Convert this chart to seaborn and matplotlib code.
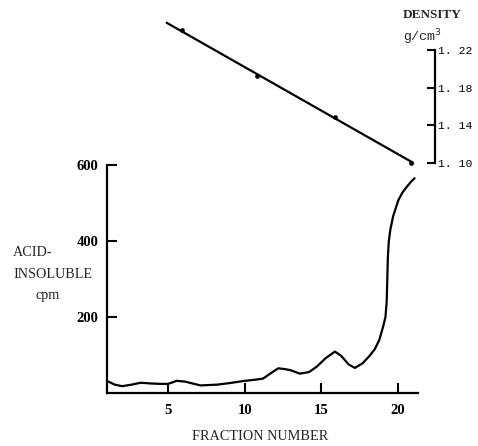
import numpy as np
import pandas as pd
import matplotlib
matplotlib.use('Agg')
import matplotlib.pyplot as plt
import seaborn as sns

# Radioactividad insoluble en acido por fraccion
fraction = [1.1, 1.5, 2.0, 2.6, 3.2, 3.9, 4.5, 5.0, 5.55, 6.1, 6.6, 7.1, 7.7,
            8.2, 9.0, 10.0, 10.7, 11.2, 11.7, 12.2, 12.6, 13.0, 13.6, 14.2,
            14.7, 15.3, 15.9, 16.3, 16.8, 17.2, 17.7, 18.1, 18.5, 18.8,
            19.05, 19.2, 19.28, 19.32, 19.36, 19.42, 19.52, 19.7, 20.04,
            20.3, 20.6, 20.85, 21.1]
cpm = [30, 22, 18, 22, 27, 25, 24, 24, 32, 30, 25, 20, 21,
       22, 26, 32, 35, 38, 52, 65, 63, 60, 51, 55,
       69, 92, 109, 98, 75, 66, 78, 95, 115, 140,
       175, 200, 240, 300, 360, 400, 430, 465, 507,
       527, 543, 555, 565]

# Densidad del gradiente
dens_fraction = [5.88, 10.78, 15.9, 20.9]
density = [1.241, 1.192, 1.149, 1.100]
fit_fraction = [4.9, 21.0]
fit_density = [1.249, 1.100]

cpm_ticks = [200, 400, 600]
frac_ticks = [5, 10, 15, 20]
dens_ticks = [1.10, 1.14, 1.18, 1.22]

sns.set_style('white')
plt.rcParams['font.family'] = ['Liberation Serif', 'DejaVu Serif']

W, H = 478, 446
fig = plt.figure(figsize=(W / 100, H / 100), dpi=100)

px_per_frac = 15.3
x0 = 107
# Eje inferior (cpm)
ax = fig.add_axes([x0 / W, 1 - 393 / H, (418 - x0) / W, (393 - 165) / H])
ax.set_xlim(1, 1 + (418 - x0) / px_per_frac)
ax.set_ylim(0, 600)
df = pd.DataFrame({'fraction': fraction, 'cpm': cpm})
sns.lineplot(data=df, x='fraction', y='cpm', ax=ax, color='black', lw=1.6,
             sort=False, estimator=None, clip_on=False)
for s in ['top', 'right']:
    ax.spines[s].set_visible(False)
for s in ['left', 'bottom']:
    ax.spines[s].set_linewidth(1.6)
    ax.spines[s].set_color('black')
ax.set_xticks(frac_ticks)
ax.set_yticks(cpm_ticks)
ax.tick_params(direction='in', length=7, width=1.5, colors='black',
               labelsize=10.5, pad=8, bottom=True, left=True)
ax.tick_params(axis='y', pad=6)
for lab in ax.get_xticklabels() + ax.get_yticklabels():
    lab.set_fontweight('bold')
ax.set_xlabel('')
ax.set_ylabel('')

fig.text(13 / W, 1 - 253 / H, 'ACID-', fontsize=10.2, va='center', ha='left')
fig.text(13 / W, 1 - 274 / H, 'INSOLUBLE', fontsize=10.2, va='center', ha='left')
fig.text(48 / W, 1 - 296 / H, 'cpm', fontsize=10.2, va='center', ha='center')
fig.text(260 / W, 1 - 437 / H, 'FRACTION NUMBER', fontsize=10.3,
         va='center', ha='center')

# Eje superior (densidad)
ax2 = fig.add_axes([x0 / W, 1 - 162.7 / H, (435 - x0) / W, (162.7 - 50) / H])
ax2.set_xlim(1, 1 + (435 - x0) / px_per_frac)
ax2.set_ylim(1.10, 1.22)
ax2.patch.set_alpha(0)
sns.lineplot(x=fit_fraction, y=fit_density, ax=ax2, color='black', lw=1.6,
             clip_on=False)
sns.scatterplot(x=dens_fraction, y=density, ax=ax2, color='black', s=10,
                edgecolor='black', clip_on=False, zorder=3)
for s in ['top', 'left', 'bottom']:
    ax2.spines[s].set_visible(False)
ax2.spines['right'].set_linewidth(1.6)
ax2.spines['right'].set_color('black')
ax2.set_xticks([])
ax2.yaxis.tick_right()
ax2.set_yticks(dens_ticks)
ax2.set_yticklabels(['1. 10', '1. 14', '1. 18', '1. 22'])
ax2.tick_params(axis='y', direction='in', length=6, width=1.5,
                colors='black', labelsize=8.2, pad=2)
for lab in ax2.get_yticklabels():
    lab.set_fontfamily(['Liberation Mono', 'DejaVu Sans Mono'])

fig.text(432 / W, 1 - 15 / H, 'DENSITY', fontsize=9.5, fontweight='bold',
         va='center', ha='center')
fig.text(423 / W, 1 - 37 / H, r'g/cm$^3$', fontsize=9.5,
         family=['Liberation Mono', 'DejaVu Sans Mono'],
         va='center', ha='center')

fig.savefig('out.png', dpi=100)
